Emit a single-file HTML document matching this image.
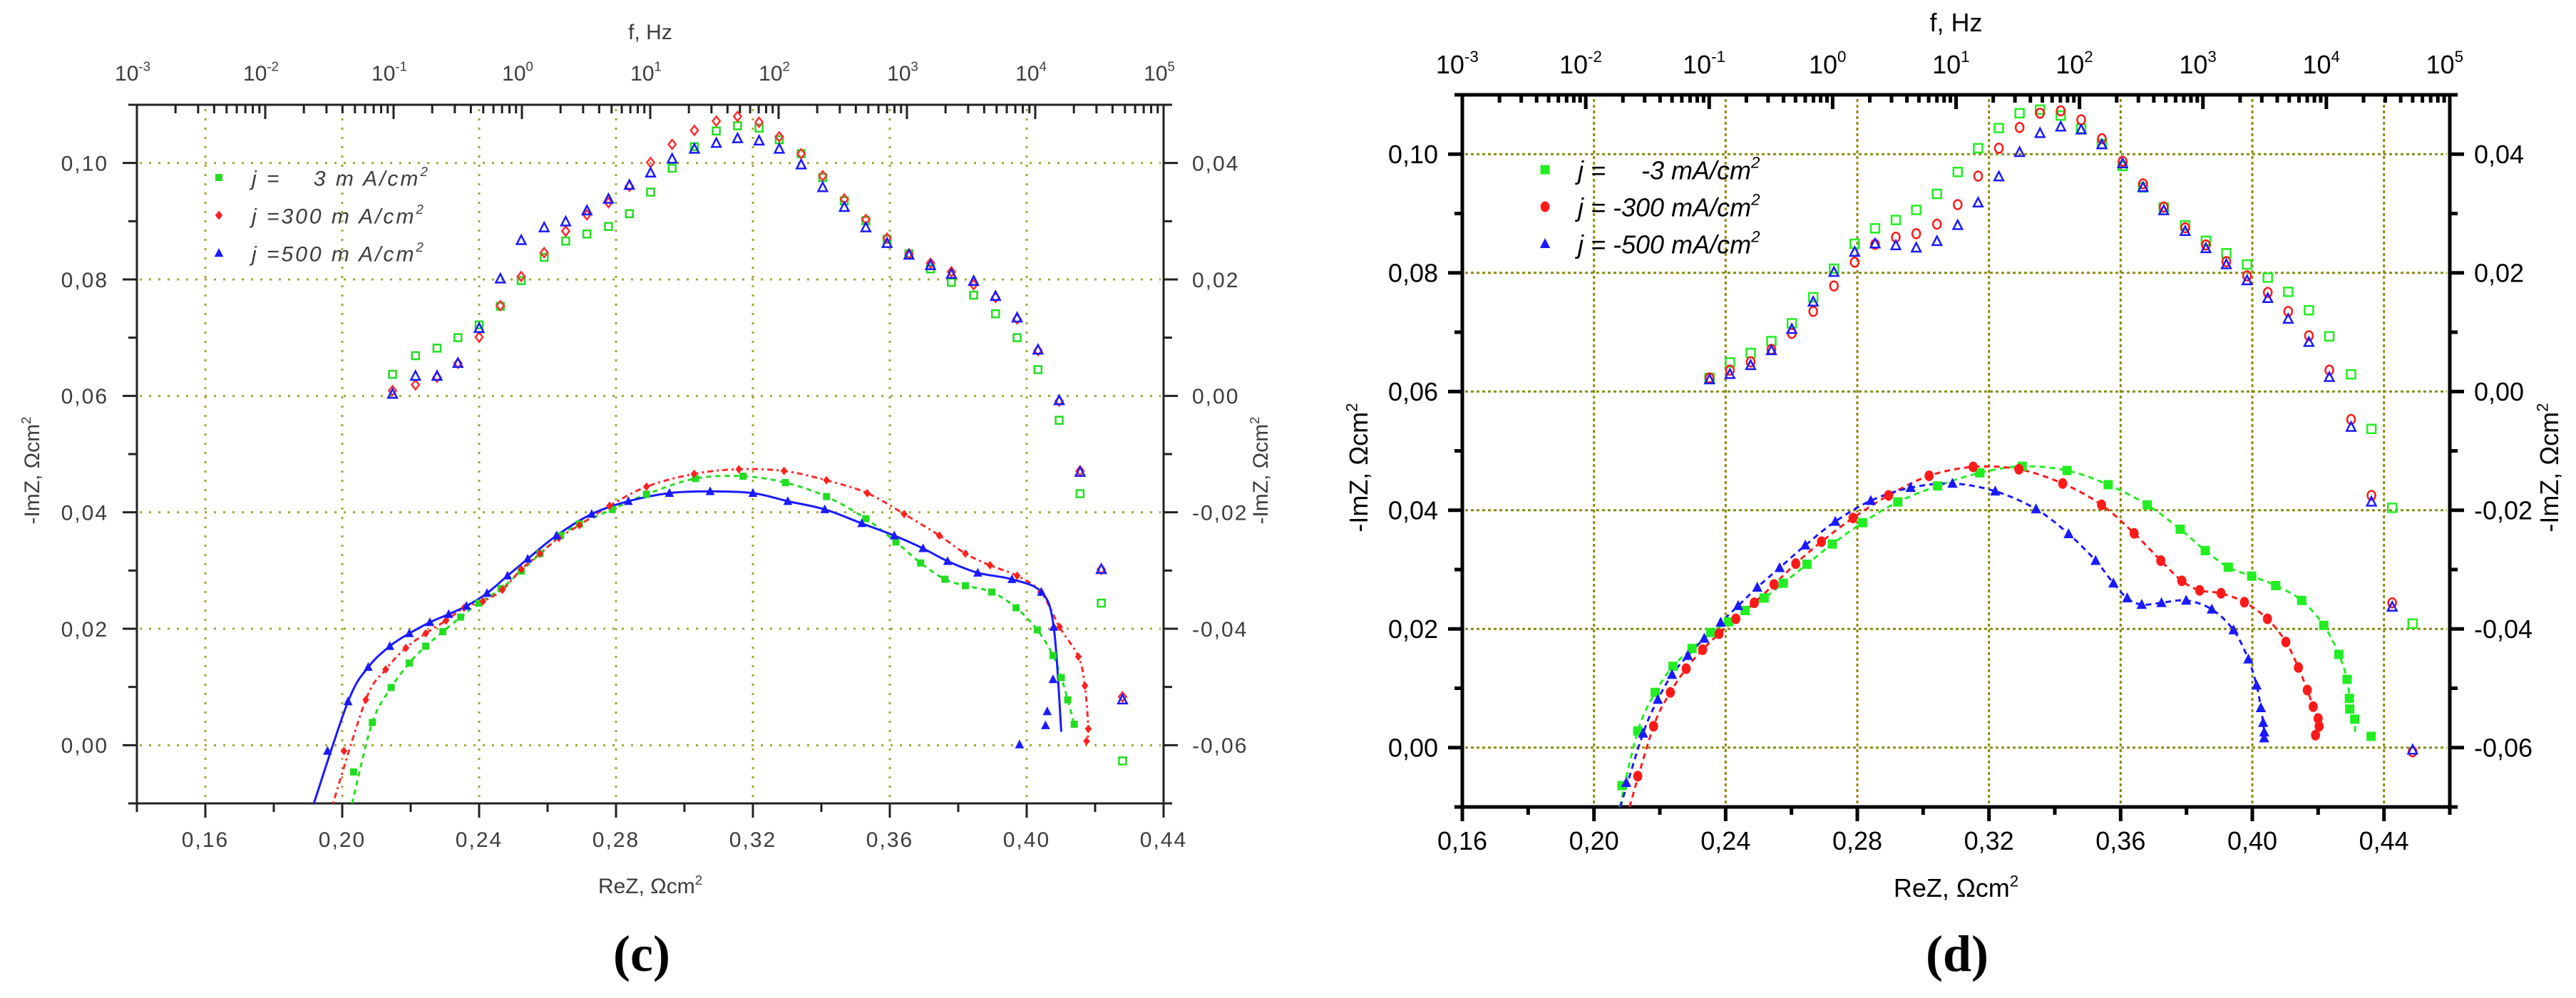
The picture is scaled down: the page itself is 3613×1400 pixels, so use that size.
<!DOCTYPE html>
<html><head><meta charset="utf-8"><style>
html,body{margin:0;padding:0;background:#fff;}
svg{display:block;}
text{font-family:"Liberation Sans",sans-serif;}
</style></head><body>
<svg id="chart" xmlns="http://www.w3.org/2000/svg" width="3613" height="1400" viewBox="0 0 3613 1400">
<rect x="0" y="0" width="3613" height="1400" fill="#fff"/>
</svg>
<script>
// ---------- Panel (c) data ----------
const cUpperReZ = [0.2147,0.2214,0.2277,0.2338,0.2400,0.2462,0.2523,0.2590,0.2653,0.2715,0.2778,0.2839,0.2901,0.2964,0.3029,0.3093,0.3155,0.3218,0.3277,0.3341,0.3404,0.3467,0.3530,0.3592,0.3656,0.3719,0.3780,0.3845,0.3909,0.3972,0.4033,0.4095,0.4156,0.4218,0.4280];
const cUpperGreen = [0.0037,0.0069,0.0082,0.0100,0.0122,0.0154,0.0198,0.0238,0.0266,0.0278,0.0291,0.0313,0.0350,0.0391,0.0428,0.0455,0.0464,0.0460,0.0440,0.0416,0.0375,0.0335,0.0301,0.0269,0.0244,0.0218,0.0195,0.0173,0.0141,0.0100,0.0045,-0.0042,-0.0168,-0.0356,-0.0627];
const cUpperRed = [0.0009,0.0019,0.0032,0.0056,0.0101,0.0155,0.0205,0.0246,0.0283,0.0311,0.0332,0.0360,0.0401,0.0432,0.0456,0.0472,0.0480,0.0470,0.0445,0.0416,0.0378,0.0338,0.0303,0.0271,0.0244,0.0228,0.0213,0.0191,0.0169,0.0132,0.0078,-0.0009,-0.0129,-0.0298,-0.0517];
const cUpperBlue = [0.0003,0.0034,0.0034,0.0056,0.0116,0.0201,0.0267,0.0289,0.0299,0.0318,0.0338,0.0362,0.0383,0.0407,0.0424,0.0434,0.0442,0.0438,0.0424,0.0397,0.0358,0.0324,0.0289,0.0262,0.0242,0.0224,0.0209,0.0197,0.0171,0.0134,0.0079,-0.0008,-0.0131,-0.0298,-0.0522];

const cGreenX = [0.2033,0.2088,0.2143,0.2196,0.2244,0.2294,0.2346,0.2399,0.2464,0.2523,0.2578,0.2638,0.2693,0.2789,0.2889,0.3032,0.3171,0.3295,0.3415,0.3530,0.3618,0.3690,0.3761,0.3821,0.3898,0.3969,0.4031,0.4077,0.4101,0.4120,0.4139];
const cGreenY = [-0.0046,0.0039,0.0099,0.0141,0.0170,0.0195,0.0220,0.0244,0.0269,0.0299,0.0329,0.0360,0.0380,0.0405,0.0431,0.0458,0.0462,0.0451,0.0427,0.0389,0.0349,0.0313,0.0285,0.0274,0.0263,0.0236,0.0198,0.0154,0.0116,0.0078,0.0036];
const cRedX = [0.2005,0.2069,0.2127,0.2186,0.2244,0.2303,0.2356,0.2411,0.2468,0.2523,0.2578,0.2633,0.2693,0.2781,0.2889,0.3028,0.3159,0.3291,0.3415,0.3534,0.3642,0.3745,0.3821,0.3893,0.3972,0.4041,0.4096,0.4151,0.4170,0.4180,0.4175];
const cRedY = [-0.0010,0.0078,0.0130,0.0167,0.0192,0.0214,0.0236,0.0247,0.0267,0.0302,0.0329,0.0356,0.0378,0.0411,0.0444,0.0466,0.0474,0.0471,0.0455,0.0433,0.0397,0.0360,0.0329,0.0309,0.0291,0.0263,0.0203,0.0152,0.0102,0.0028,0.0007];
const cBlueX = [0.1957,0.2017,0.2076,0.2139,0.2196,0.2256,0.2311,0.2363,0.2423,0.2483,0.2542,0.2626,0.2729,0.2836,0.2956,0.3075,0.3200,0.3302,0.3410,0.3518,0.3613,0.3697,0.3769,0.3857,0.3957,0.4043,0.4079,0.4077,0.4060,0.4055,0.3979];
const cBlueY = [-0.0010,0.0075,0.0134,0.0170,0.0192,0.0211,0.0225,0.0239,0.0261,0.0291,0.0320,0.0360,0.0397,0.0419,0.0433,0.0436,0.0433,0.0419,0.0405,0.0381,0.0360,0.0338,0.0316,0.0296,0.0285,0.0263,0.0203,0.0113,0.0058,0.0034,0.0001];
const cGreenFitStart = [0.2029,-0.0100];
const cRedFitStart = [0.1973,-0.0100];
const cBlueFitStart = [0.1917,-0.0100];
const cBlueFitEnd = [0.4101,0.0023];

// ---------- Panel (d) data ----------
const dUpperReZ = [0.2351,0.2413,0.2476,0.2539,0.2601,0.2666,0.2729,0.2792,0.2854,0.2917,0.2979,0.3042,0.3105,0.3167,0.3230,0.3293,0.3355,0.3418,0.3480,0.3543,0.3606,0.3668,0.3731,0.3796,0.3859,0.3921,0.3984,0.4047,0.4109,0.4172,0.4234,0.4300,0.4362,0.4425,0.4487];
const dUpperGreen = [0.0023,0.0049,0.0065,0.0085,0.0115,0.0159,0.0207,0.0249,0.0275,0.0289,0.0306,0.0333,0.0370,0.0410,0.0444,0.0469,0.0475,0.0465,0.0443,0.0417,0.0380,0.0344,0.0310,0.0280,0.0254,0.0233,0.0214,0.0192,0.0168,0.0137,0.0093,0.0029,-0.0063,-0.0196,-0.0391];
const dUpperRed = [0.0023,0.0036,0.0050,0.0071,0.0098,0.0135,0.0178,0.0218,0.0248,0.0260,0.0266,0.0282,0.0315,0.0363,0.0410,0.0445,0.0469,0.0473,0.0458,0.0426,0.0388,0.0350,0.0311,0.0276,0.0247,0.0219,0.0195,0.0167,0.0135,0.0094,0.0036,-0.0047,-0.0175,-0.0356,-0.0607];
const dUpperBlue = [0.0020,0.0029,0.0044,0.0069,0.0105,0.0151,0.0201,0.0235,0.0249,0.0246,0.0242,0.0253,0.0280,0.0318,0.0362,0.0403,0.0435,0.0446,0.0441,0.0416,0.0384,0.0344,0.0305,0.0270,0.0241,0.0214,0.0187,0.0157,0.0122,0.0083,0.0024,-0.0060,-0.0186,-0.0363,-0.0604];

const dGreenX = [0.2085,0.2133,0.2186,0.2240,0.2298,0.2355,0.2409,0.2459,0.2517,0.2575,0.2647,0.2724,0.2816,0.2923,0.3044,0.3172,0.3301,0.3437,0.3562,0.3681,0.3781,0.3857,0.3927,0.3998,0.4071,0.4150,0.4217,0.4263,0.4288,0.4295,0.4296,0.4311,0.4361];
const dGreenY = [-0.0064,0.0028,0.0093,0.0137,0.0167,0.0194,0.0212,0.0231,0.0252,0.0277,0.0309,0.0343,0.0379,0.0414,0.0441,0.0463,0.0474,0.0467,0.0443,0.0409,0.0368,0.0332,0.0304,0.0289,0.0273,0.0248,0.0206,0.0157,0.0115,0.0083,0.0065,0.0048,0.0019];
const dRedX = [0.2133,0.2181,0.2232,0.2280,0.2330,0.2380,0.2431,0.2487,0.2547,0.2613,0.2691,0.2787,0.2895,0.3018,0.3152,0.3291,0.3424,0.3542,0.3641,0.3722,0.3786,0.3840,0.3905,0.3976,0.4046,0.4102,0.4140,0.4167,0.4185,0.4200,0.4203,0.4192];
const dRedY = [-0.0048,0.0036,0.0093,0.0133,0.0165,0.0192,0.0217,0.0244,0.0275,0.0310,0.0347,0.0387,0.0425,0.0458,0.0473,0.0469,0.0445,0.0409,0.0361,0.0315,0.0281,0.0265,0.0260,0.0245,0.0217,0.0178,0.0135,0.0097,0.0069,0.0049,0.0036,0.0021];
const dBlueX = [0.2098,0.2149,0.2194,0.2237,0.2285,0.2335,0.2385,0.2438,0.2496,0.2564,0.2642,0.2733,0.2841,0.2962,0.3089,0.3219,0.3343,0.3442,0.3524,0.3578,0.3620,0.3664,0.3724,0.3799,0.3877,0.3943,0.3988,0.4013,0.4026,0.4033,0.4036,0.4036];
const dBlueY = [-0.0059,0.0024,0.0081,0.0123,0.0155,0.0184,0.0211,0.0239,0.0270,0.0303,0.0341,0.0381,0.0416,0.0438,0.0445,0.0432,0.0402,0.0360,0.0315,0.0277,0.0252,0.0241,0.0244,0.0248,0.0233,0.0198,0.0149,0.0105,0.0067,0.0042,0.0026,0.0016];
const dGreenFitStart = [0.2078,-0.0100];
const dRedFitStart = [0.2108,-0.0100];
const dBlueFitStart = [0.2080,-0.0100];
const dGreenFitEnd = [0.4312,0.0025];

// ---------- tick label arrays ----------
const leftTicks = [0.00,0.02,0.04,0.06,0.08,0.10];
const rightTicks = [-0.06,-0.04,-0.02,0.00,0.02,0.04];
const cXTicks = [0.16,0.20,0.24,0.28,0.32,0.36,0.40,0.44];
const dXTicks = [0.16,0.20,0.24,0.28,0.32,0.36,0.40,0.44];
const cGridX = [0.16,0.20,0.24,0.28,0.32,0.36,0.40];
const dGridX = [0.20,0.24,0.28,0.32,0.36,0.40,0.44];
const freqExponents = [-3,-2,-1,0,1,2,3,4,5];
const RIGHT_OFFSET = 0.06;

const NS = 'http://www.w3.org/2000/svg';
const svg = document.getElementById('chart');
function el(tag, attrs, parent) {
  const e = document.createElementNS(NS, tag);
  for (const k in attrs) e.setAttribute(k, attrs[k]);
  (parent || svg).appendChild(e);
  return e;
}
function fmt(v) { return (v < 0 ? '-' : '') + Math.abs(v).toFixed(2).replace('.', ','); }

function catmull(pts) {
  if (pts.length < 2) return '';
  let d = 'M' + pts[0][0].toFixed(1) + ',' + pts[0][1].toFixed(1);
  for (let i = 0; i < pts.length - 1; i++) {
    const p0 = pts[i - 1] || pts[i], p1 = pts[i], p2 = pts[i + 1], p3 = pts[i + 2] || p2;
    const c1x = p1[0] + (p2[0] - p0[0]) / 6, c1y = p1[1] + (p2[1] - p0[1]) / 6;
    const c2x = p2[0] - (p3[0] - p1[0]) / 6, c2y = p2[1] - (p3[1] - p1[1]) / 6;
    d += ' C' + c1x.toFixed(1) + ',' + c1y.toFixed(1) + ' ' + c2x.toFixed(1) + ',' + c2y.toFixed(1) + ' ' + p2[0].toFixed(1) + ',' + p2[1].toFixed(1);
  }
  return d;
}

function marker(g, shape, cx, cy, s, color, open, sw) {
  let m;
  const fill = open ? 'none' : color;
  const stroke = open ? color : 'none';
  if (shape === 'square') {
    m = el('rect', {x: cx - s / 2, y: cy - s / 2, width: s, height: s, fill: fill, stroke: stroke, 'stroke-width': sw}, g);
  } else if (shape === 'circle') {
    m = el('ellipse', {cx: cx, cy: cy, rx: s / 2 * 0.85, ry: s / 2, fill: fill, stroke: stroke, 'stroke-width': sw}, g);
  } else if (shape === 'diamond') {
    const h = s / 2;
    m = el('polygon', {points: [cx, cy - h, cx + h * 0.8, cy, cx, cy + h, cx - h * 0.8, cy].join(' '), fill: fill, stroke: stroke, 'stroke-width': sw}, g);
  } else {
    const h = s / 2;
    m = el('polygon', {points: [cx, cy - h, cx + h * 0.9, cy + h * 0.75, cx - h * 0.9, cy + h * 0.75].join(' '), fill: fill, stroke: stroke, 'stroke-width': sw}, g);
  }
  return m;
}

function drawPanel(P) {
  const g = el('g', {});
  
  
  const sx = v => P.x0 + (v - P.xmin) / (P.xmax - P.xmin) * (P.x1 - P.x0);
  const sy = v => P.y1 - (v - P.ymin) / (P.ymax - P.ymin) * (P.y1 - P.y0);
  const syR = v => sy(v + RIGHT_OFFSET);
  const fx = e => P.x0 + (e - freqExponents[0]) / (freqExponents[freqExponents.length - 1] - freqExponents[0]) * (P.x1 - P.x0);

  const clipId = P.name + '-clip';
  const defs = el('defs', {}, g);
  const cp = el('clipPath', {id: clipId}, defs);
  el('rect', {x: P.x0, y: P.y0, width: P.x1 - P.x0, height: P.y1 - P.y0}, cp);

  const grid = el('g', {stroke: P.gridColor, 'stroke-width': P.gridW, 'stroke-dasharray': P.gridDash, fill: 'none'}, g);
  
  
  P.gridX.forEach(v => {
    const l = el('line', {x1: sx(v), x2: sx(v), y1: P.y0 + 6, y2: P.y1 - 4}, grid);
    
    
  });
  leftTicks.forEach(v => {
    const l = el('line', {x1: P.x0 + 4, x2: P.x1 - 4, y1: sy(v), y2: sy(v)}, grid);
    
    
  });

  const frame = el('rect', {x: P.x0, y: P.y0, width: P.x1 - P.x0, height: P.y1 - P.y0, fill: 'none', stroke: P.axisColor, 'stroke-width': P.frameW}, g);
  
  

  const tk = el('g', {stroke: P.axisColor, 'stroke-width': P.tickW}, g);
  
  
  for (let i = 0; i <= 12; i++) {
    const v = -0.01 + i * 0.01;
    const y = sy(v);
    const major = Math.abs(Math.round(v * 100)) % 2 === 0;
    const L = major ? P.tickMaj : P.tickMin;
    el('line', {x1: P.x0 - L, x2: P.x0, y1: y, y2: y}, tk);
    el('line', {x1: P.x1, x2: P.x1 + L, y1: y, y2: y}, tk);
  }
  for (let v = P.xmin; v <= P.xmax + 1e-9; v += 0.02) {
    const major = Math.round(v * 100) % 4 === 0;
    const L = major ? P.tickMaj : P.tickMin;
    el('line', {x1: sx(v), x2: sx(v), y1: P.y1, y2: P.y1 + L}, tk);
  }
  for (let i = 0; i < freqExponents.length; i++) {
    const e = freqExponents[i];
    const x = fx(e);
    el('line', {x1: x, x2: x, y1: P.y0, y2: P.y0 + P.tickMaj}, tk);
    if (i < freqExponents.length - 1) {
      for (let k = 2; k <= 9; k++) {
        const xm = fx(e + Math.log10(k));
        el('line', {x1: xm, x2: xm, y1: P.y0, y2: P.y0 + P.tickMin}, tk);
      }
    }
  }

  const fs = P.fontSize;
  leftTicks.forEach(v => {
    const t = el('text', {x: P.x0 - P.labelGap, y: sy(v) + fs * 0.36, 'text-anchor': 'end', 'font-size': fs, fill: P.textColor, 'letter-spacing': P.ls}, g);
    
    
    t.textContent = fmt(v);
  });
  rightTicks.forEach(v => {
    const t = el('text', {x: P.x1 + P.labelGap, y: syR(v) + fs * 0.36, 'text-anchor': 'start', 'font-size': fs, fill: P.textColor, 'letter-spacing': P.ls}, g);
    
    
    t.textContent = fmt(v);
  });
  P.xTicks.forEach(v => {
    const t = el('text', {x: sx(v), y: P.xLabelY, 'text-anchor': 'middle', 'font-size': fs, fill: P.textColor, 'letter-spacing': P.ls}, g);
    
    
    t.textContent = fmt(v);
  });
  freqExponents.forEach(e => {
    const t = el('text', {x: fx(e) - fs * 0.2, y: P.topLabelY, 'text-anchor': 'middle', 'font-size': fs, fill: P.textColor}, g);
    
    
    const a = el('tspan', {}, t); a.textContent = '10';
    const b = el('tspan', {dy: -fs * 0.45, 'font-size': fs * 0.62}, t); b.textContent = String(e);
  });

  function title(txt, x, y, rot, name) {
    const t = el('text', {x: x, y: y, 'text-anchor': 'middle', 'font-size': fs, fill: P.textColor, transform: rot ? 'rotate(-90 ' + x + ' ' + y + ')' : ''}, g);
    
    
    const a = el('tspan', {}, t); a.textContent = txt;
    const b = el('tspan', {dy: -fs * 0.4, 'font-size': fs * 0.62}, t); b.textContent = '2';
  }
  title('-ImZ, \u03A9cm', P.leftTitleX, P.midY, true, 'y-axis-title');
  title('-ImZ, \u03A9cm', P.rightTitleX, P.midY, true, 'right-y-axis-title');
  title('ReZ, \u03A9cm', (P.x0 + P.x1) / 2, P.xTitleY, false, 'x-axis-title');
  const ft = el('text', {x: (P.x0 + P.x1) / 2, y: P.fTitleY, 'text-anchor': 'middle', 'font-size': fs, fill: P.textColor}, g);
  
  
  ft.textContent = 'f, Hz';

  const dg = el('g', {'clip-path': 'url(#' + clipId + ')'}, g);
  P.fits.forEach(f => {
    const pts = [f.start].concat(f.xs.map((x, i) => [x, f.ys[i]])).concat(f.end ? [f.end] : []);
    const pp = pts.map(p => [sx(p[0]), sy(p[1])]);
    const path = el('path', {d: catmull(pp), fill: 'none', stroke: f.color, 'stroke-width': P.fitW, 'stroke-dasharray': f.dash}, dg);
    
    
  });
  P.series.forEach(s => {
    const sg = el('g', {}, dg);
    
    
    s.xs.forEach((x, i) => {
      const y = s.right ? syR(s.ys[i]) : sy(s.ys[i]);
      const m = marker(sg, s.shape, sx(x), y, s.size, s.color, s.open, P.openW);
      
      
    });
  });

  const lg = el('g', {}, g);
  
  
  P.legend.forEach((L, i) => {
    const y = P.legY + i * P.legStep;
    const m = marker(lg, L.shape, P.legMX, y, L.size, L.color, false, 0);
    
    
    const t = el('text', {x: P.legTX, y: y + P.legFs * 0.38, 'font-size': P.legFs, 'font-style': 'italic', fill: P.textColor, 'letter-spacing': P.legLs, 'xml:space': 'preserve', style: 'white-space:pre'}, lg);
    
    
    const a = el('tspan', {}, t); a.textContent = L.text;
    const b = el('tspan', {dy: -P.legFs * 0.45, 'font-size': P.legFs * 0.62}, t); b.textContent = '2';
  });

  const pl = el('text', {x: P.capX, y: P.capY, 'text-anchor': 'middle', 'font-size': 72, 'font-weight': 'bold', fill: '#000', style: 'font-family:"Liberation Serif",serif'}, g);
  
  
  pl.textContent = P.caption;
}

drawPanel({
  name: 'panel-c', x0: 192, x1: 1632, y0: 147, y1: 1127, xmin: 0.14, xmax: 0.44, ymin: -0.01, ymax: 0.11,
  gridX: cGridX, xTicks: cXTicks, gridColor: '#a5a53a', gridW: 3, gridDash: '3 10',
  axisColor: '#222', frameW: 3, tickW: 3, tickMaj: 20, tickMin: 12,
  fontSize: 30, textColor: '#3c3c3c', ls: 2, labelGap: 40,
  xLabelY: 1188, topLabelY: 113, leftTitleX: 55, rightTitleX: 1778, midY: 660, xTitleY: 1253, fTitleY: 55,
  fitW: 3, openW: 2.5,
  fits: [
    {name: 'fit-3ma', start: cGreenFitStart, xs: cGreenX.slice(1), ys: cGreenY.slice(1), end: null, color: '#22dd22', dash: '7 6'},
    {name: 'fit-300ma', start: cRedFitStart, xs: cRedX.slice(1), ys: cRedY.slice(1), end: null, color: '#ff2a2a', dash: '3 5 8 5'},
    {name: 'fit-500ma', start: cBlueFitStart, xs: cBlueX.slice(1, 27), ys: cBlueY.slice(1, 27), end: cBlueFitEnd, color: '#1a1aff', dash: ''}
  ],
  series: [
    {name: 'freq-3ma', xs: cUpperReZ, ys: cUpperGreen, right: true, shape: 'square', size: 10, color: '#22dd22', open: true},
    {name: 'freq-300ma', xs: cUpperReZ, ys: cUpperRed, right: true, shape: 'diamond', size: 13, color: '#ff3030', open: true},
    {name: 'freq-500ma', xs: cUpperReZ, ys: cUpperBlue, right: true, shape: 'triangle', size: 14, color: '#1a1aff', open: true},
    {name: 'nyquist-3ma', xs: cGreenX, ys: cGreenY, right: false, shape: 'square', size: 10, color: '#22dd22', open: false},
    {name: 'nyquist-300ma', xs: cRedX, ys: cRedY, right: false, shape: 'diamond', size: 12, color: '#ff2020', open: false},
    {name: 'nyquist-500ma', xs: cBlueX, ys: cBlueY, right: false, shape: 'triangle', size: 14, color: '#1a1aff', open: false}
  ],
  legend: [
    {shape: 'square', size: 10, color: '#22dd22', text: 'j =    3 m A/cm'},
    {shape: 'diamond', size: 13, color: '#ff2020', text: 'j =300 m A/cm'},
    {shape: 'triangle', size: 14, color: '#1a1aff', text: 'j =500 m A/cm'}
  ],
  legY: 249, legStep: 53, legMX: 307, legTX: 353, legFs: 30, legLs: 3,
  capX: 900, capY: 1362, caption: '(c)'
});

drawPanel({
  name: 'panel-d', x0: 2051, x1: 3436, y0: 133, y1: 1132, xmin: 0.16, xmax: 0.46, ymin: -0.01, ymax: 0.11,
  gridX: dGridX, xTicks: dXTicks, gridColor: '#8a8a10', gridW: 3, gridDash: '4 4',
  axisColor: '#000', frameW: 5, tickW: 5, tickMaj: 20, tickMin: 11,
  fontSize: 36, textColor: '#000', ls: 0, labelGap: 34,
  xLabelY: 1192, topLabelY: 103, leftTitleX: 1918, rightTitleX: 3588, midY: 656, xTitleY: 1258, fTitleY: 44,
  fitW: 3, openW: 2.5,
  fits: [
    {name: 'fit-3ma', start: dGreenFitStart, xs: dGreenX.slice(1, dGreenX.length - 1), ys: dGreenY.slice(1, dGreenY.length - 1), end: dGreenFitEnd, color: '#22ee22', dash: '8 6'},
    {name: 'fit-300ma', start: dRedFitStart, xs: dRedX.slice(1), ys: dRedY.slice(1), end: null, color: '#ff1a1a', dash: '8 6'},
    {name: 'fit-500ma', start: dBlueFitStart, xs: dBlueX.slice(1), ys: dBlueY.slice(1), end: null, color: '#1a1aff', dash: '8 6'}
  ],
  series: [
    {name: 'freq-3ma', xs: dUpperReZ, ys: dUpperGreen, right: true, shape: 'square', size: 12, color: '#22ee22', open: true},
    {name: 'freq-300ma', xs: dUpperReZ, ys: dUpperRed, right: true, shape: 'circle', size: 13, color: '#ff1a1a', open: true},
    {name: 'freq-500ma', xs: dUpperReZ, ys: dUpperBlue, right: true, shape: 'triangle', size: 14, color: '#1a1aff', open: true},
    {name: 'nyquist-3ma', xs: dGreenX, ys: dGreenY, right: false, shape: 'square', size: 13, color: '#22ee22', open: false},
    {name: 'nyquist-300ma', xs: dRedX, ys: dRedY, right: false, shape: 'circle', size: 15, color: '#ff1a1a', open: false},
    {name: 'nyquist-500ma', xs: dBlueX, ys: dBlueY, right: false, shape: 'triangle', size: 16, color: '#1a1aff', open: false}
  ],
  legend: [
    {shape: 'square', size: 13, color: '#22ee22', text: 'j =     -3 mA/cm'},
    {shape: 'circle', size: 15, color: '#ff1a1a', text: 'j = -300 mA/cm'},
    {shape: 'triangle', size: 16, color: '#1a1aff', text: 'j = -500 mA/cm'}
  ],
  legY: 238, legStep: 52, legMX: 2167, legTX: 2213, legFs: 36, legLs: 0,
  capX: 2745, capY: 1362, caption: '(d)'
});
</script>
</body></html>
